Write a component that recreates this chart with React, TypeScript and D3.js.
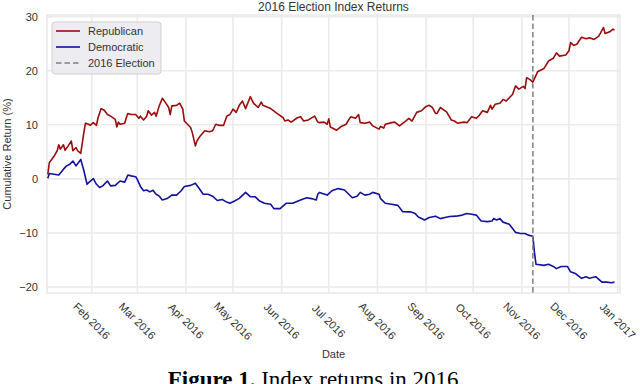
import React from 'react';
import * as d3 from 'd3';

// values
const repDates = [
  '2016-01-04', '2016-01-05', '2016-01-08', '2016-01-10', '2016-01-11', '2016-01-12', '2016-01-14', '2016-01-15',
  '2016-01-17', '2016-01-19', '2016-01-20', '2016-01-22', '2016-01-23', '2016-01-25', '2016-01-27', '2016-01-28',
  '2016-01-30', '2016-01-31', '2016-02-02', '2016-02-04', '2016-02-05', '2016-02-07', '2016-02-09', '2016-02-11',
  '2016-02-13', '2016-02-16', '2016-02-17', '2016-02-18', '2016-02-19', '2016-02-22', '2016-02-23', '2016-02-24',
  '2016-02-26', '2016-02-29', '2016-03-02', '2016-03-03', '2016-03-05', '2016-03-07', '2016-03-08', '2016-03-10',
  '2016-03-12', '2016-03-13', '2016-03-15', '2016-03-17', '2016-03-19', '2016-03-21', '2016-03-22', '2016-03-23',
  '2016-03-26', '2016-03-28', '2016-03-30', '2016-03-31', '2016-04-04', '2016-04-05', '2016-04-07', '2016-04-08',
  '2016-04-10', '2016-04-13', '2016-04-16', '2016-04-18', '2016-04-20', '2016-04-22', '2016-04-25', '2016-04-27',
  '2016-04-29', '2016-05-01', '2016-05-03', '2016-05-05', '2016-05-07', '2016-05-09', '2016-05-12', '2016-05-14',
  '2016-05-17', '2016-05-19', '2016-05-20', '2016-05-25', '2016-05-29', '2016-06-02', '2016-06-03', '2016-06-05',
  '2016-06-07', '2016-06-11', '2016-06-13', '2016-06-15', '2016-06-18', '2016-06-22', '2016-06-24', '2016-06-25',
  '2016-06-28', '2016-06-30', '2016-07-01', '2016-07-02', '2016-07-06', '2016-07-09', '2016-07-12', '2016-07-15',
  '2016-07-18', '2016-07-20', '2016-07-21', '2016-07-24', '2016-07-27', '2016-07-29', '2016-08-02', '2016-08-03',
  '2016-08-05', '2016-08-06', '2016-08-10', '2016-08-12', '2016-08-15', '2016-08-19', '2016-08-21', '2016-08-23',
  '2016-08-26', '2016-08-29', '2016-09-01', '2016-09-03', '2016-09-05', '2016-09-07', '2016-09-08', '2016-09-10',
  '2016-09-14', '2016-09-17', '2016-09-19', '2016-09-21', '2016-09-25', '2016-09-27', '2016-09-30', '2016-10-03',
  '2016-10-05', '2016-10-07', '2016-10-10', '2016-10-12', '2016-10-13', '2016-10-15', '2016-10-18', '2016-10-20',
  '2016-10-22', '2016-10-26', '2016-10-28', '2016-10-30', '2016-11-02', '2016-11-03', '2016-11-04', '2016-11-06',
  '2016-11-08', '2016-11-11', '2016-11-15', '2016-11-18', '2016-11-21', '2016-11-23', '2016-11-25', '2016-11-29',
  '2016-12-01', '2016-12-02', '2016-12-04', '2016-12-06', '2016-12-09', '2016-12-12', '2016-12-14', '2016-12-17',
  '2016-12-20', '2016-12-23', '2016-12-24', '2016-12-27', '2016-12-29', '2016-12-30',
];
const repReturns = [
  0.85, 3.0, 4.2, 5.2, 6.3, 5.5, 6.3, 5.3,
  6.1, 7.0, 5.2, 5.8, 5.2, 4.7, 8.6, 10.3,
  10.1, 9.9, 10.4, 9.9, 11.3, 13.0, 12.7, 11.9,
  11.6, 11.0, 9.6, 10.5, 10.1, 10.3, 11.3, 12.1,
  11.9, 11.9, 11.2, 11.6, 10.9, 11.6, 12.6, 11.8,
  12.3, 11.6, 13.5, 14.9, 14.1, 13.2, 11.9, 13.5,
  13.6, 14.0, 12.9, 10.7, 9.5, 8.6, 6.1, 7.0,
  7.9, 8.9, 8.7, 8.9, 10.1, 9.9, 9.9, 11.6,
  11.9, 12.9, 12.3, 13.6, 14.4, 13.0, 15.2, 14.0,
  13.2, 14.2, 13.6, 13.0, 12.1, 11.3, 10.7, 10.9,
  10.5, 11.3, 11.5, 10.7, 10.9, 11.6, 10.5, 10.4,
  10.5, 10.1, 11.1, 9.6, 9.0, 9.7, 10.1, 11.5,
  11.2, 11.9, 10.4, 10.3, 10.5, 9.8, 9.2, 9.7,
  9.4, 10.1, 10.4, 10.5, 9.8, 10.7, 11.2, 10.7,
  12.3, 12.6, 13.4, 13.6, 13.2, 12.1, 12.1, 13.2,
  12.4, 10.9, 10.7, 10.3, 10.5, 10.4, 11.5, 11.2,
  11.8, 12.6, 12.3, 13.6, 12.9, 13.8, 14.0, 14.7,
  14.4, 15.6, 17.2, 16.6, 17.1, 16.7, 18.7, 18.4,
  17.9, 19.8, 20.4, 21.8, 22.3, 23.3, 22.7, 22.9,
  23.7, 25.2, 24.7, 24.9, 26.2, 25.9, 26.1, 25.8,
  26.4, 28.0, 26.9, 27.2, 27.7, 27.5,
];

const demDates = [
  '2016-01-04', '2016-01-05', '2016-01-08', '2016-01-11', '2016-01-14', '2016-01-16', '2016-01-18', '2016-01-20',
  '2016-01-22', '2016-01-25', '2016-01-27', '2016-01-29', '2016-01-30', '2016-02-02', '2016-02-04', '2016-02-06',
  '2016-02-08', '2016-02-11', '2016-02-13', '2016-02-16', '2016-02-19', '2016-02-22', '2016-02-24', '2016-02-26',
  '2016-02-29', '2016-03-01', '2016-03-03', '2016-03-05', '2016-03-07', '2016-03-09', '2016-03-11', '2016-03-13',
  '2016-03-15', '2016-03-17', '2016-03-20', '2016-03-23', '2016-03-26', '2016-03-29', '2016-03-31', '2016-04-04',
  '2016-04-07', '2016-04-09', '2016-04-12', '2016-04-15', '2016-04-18', '2016-04-21', '2016-04-24', '2016-04-27',
  '2016-04-29', '2016-05-02', '2016-05-05', '2016-05-09', '2016-05-12', '2016-05-15', '2016-05-18', '2016-05-21',
  '2016-05-25', '2016-05-27', '2016-05-31', '2016-06-04', '2016-06-08', '2016-06-13', '2016-06-17', '2016-06-20',
  '2016-06-23', '2016-06-24', '2016-06-25', '2016-06-30', '2016-07-03', '2016-07-07', '2016-07-11', '2016-07-16',
  '2016-07-19', '2016-07-21', '2016-07-24', '2016-07-27', '2016-07-29', '2016-08-02', '2016-08-03', '2016-08-06',
  '2016-08-10', '2016-08-14', '2016-08-17', '2016-08-22', '2016-08-25', '2016-08-27', '2016-08-31', '2016-09-03',
  '2016-09-07', '2016-09-10', '2016-09-13', '2016-09-16', '2016-09-20', '2016-09-24', '2016-09-27', '2016-09-30',
  '2016-10-03', '2016-10-06', '2016-10-10', '2016-10-13', '2016-10-14', '2016-10-16', '2016-10-18', '2016-10-20',
  '2016-10-24', '2016-10-28', '2016-10-31', '2016-11-03', '2016-11-05', '2016-11-08', '2016-11-09', '2016-11-10',
  '2016-11-15', '2016-11-18', '2016-11-21', '2016-11-23', '2016-11-26', '2016-11-30', '2016-12-02', '2016-12-05',
  '2016-12-09', '2016-12-12', '2016-12-14', '2016-12-18', '2016-12-20', '2016-12-22', '2016-12-25', '2016-12-28',
  '2016-12-30',
];
const demReturns = [
  0.1, 1.0, 0.85, 0.7, 1.8, 2.4, 2.7, 3.3,
  2.4, 3.6, 1.5, -1.0, -0.7, 0.05, -1.0, -1.6,
  -1.3, -0.4, -1.3, -1.2, -0.4, -0.6, 0.7, 0.55,
  0.4, -0.1, -1.4, -2.2, -2.05, -2.4, -2.1, -2.85,
  -3.2, -3.9, -3.65, -3.0, -3.0, -2.2, -1.4, -1.2,
  -0.8, -1.6, -2.85, -2.85, -3.2, -4.0, -3.8, -4.3,
  -4.5, -4.1, -3.6, -2.5, -3.3, -3.3, -4.1, -4.5,
  -4.7, -5.5, -5.5, -4.5, -4.5, -3.9, -3.5, -3.65,
  -3.9, -2.85, -2.5, -3.0, -2.2, -1.8, -2.05, -3.5,
  -3.2, -2.5, -3.0, -2.85, -2.5, -2.85, -3.65, -4.5,
  -4.7, -4.9, -6.05, -6.1, -6.4, -7.05, -7.6, -7.15,
  -6.9, -7.35, -7.15, -6.95, -6.9, -6.7, -6.4, -6.55,
  -6.7, -7.8, -7.9, -7.8, -7.35, -7.6, -7.35, -8.0,
  -8.4, -9.9, -10.1, -10.1, -10.4, -10.6, -13.6, -15.8,
  -16.0, -15.8, -16.2, -16.6, -16.2, -16.2, -17.2, -17.5,
  -18.4, -18.1, -18.4, -18.1, -18.6, -19.1, -19.1, -19.2,
  -19.1,
];

const electionDate = '2016-11-08';
const yTicks = [-20, -10, 0, 10, 20, 30];
const seriesNames = ['Republican', 'Democratic', '2016 Election'];

const W = 640;
const H = 384;
const plot = { left: 47, right: 620, top: 15, bottom: 293 };
const font = '"Liberation Sans", Arial, sans-serif';
const textColor = '#333';
const gridColor = '#ebebeb';
const repColor = '#9a0d0d';
const demColor = '#12129a';

const parse = d3.timeParse('%Y-%m-%d');

const App = () => {
  const x = d3.scaleTime()
    .domain([new Date(2016, 0, 3, 12), new Date(2017, 0, 2, 12)])
    .range([plot.left, plot.right]);
  const y = d3.scaleLinear().domain([-21.11, 30.31]).range([plot.bottom, plot.top]);

  const rep = repDates.map((d, i) => ({ date: parse(d) as Date, v: repReturns[i] }));
  const dem = demDates.map((d, i) => ({ date: parse(d) as Date, v: demReturns[i] }));
  const line = d3.line<{ date: Date; v: number }>().x((d) => x(d.date)).y((d) => y(d.v));

  const months = d3.timeMonth.range(new Date(2016, 1, 1), new Date(2017, 0, 2));
  const fmt = d3.timeFormat('%b %Y');
  const ex = x(parse(electionDate) as Date);

  const legendItems = [
    { label: seriesNames[0], color: repColor, dash: null },
    { label: seriesNames[1], color: demColor, dash: null },
    { label: seriesNames[2], color: '#808080', dash: '5.5,3' },
  ];

  return (
    <div style={{ position: 'absolute', left: 0, top: 0 }}>
      <svg width={W} height={H} style={{ display: 'block', background: '#fff' }}>
        {/* grid */}
        {yTicks.map((t) => (
          <line key={'gy' + t} x1={plot.left} x2={plot.right} y1={y(t)} y2={y(t)} stroke={gridColor} strokeWidth={1.6} />
        ))}
        {months.map((m) => (
          <line key={'gx' + m.getTime()} x1={x(m)} x2={x(m)} y1={plot.top} y2={plot.bottom} stroke={gridColor} strokeWidth={1.6} />
        ))}
        {/* frame */}
        <rect x={plot.left} y={plot.top} width={plot.right - plot.left} height={plot.bottom - plot.top}
          fill="none" stroke="#e3e3e3" strokeWidth={1.2} />

        {/* series */}
        <path d={line(rep) || ''} fill="none" stroke={repColor} strokeWidth={1.6} strokeLinejoin="round" />
        <path d={line(dem) || ''} fill="none" stroke={demColor} strokeWidth={1.6} strokeLinejoin="round" />
        <line x1={ex} x2={ex} y1={plot.top} y2={plot.bottom} stroke="#808080" strokeWidth={1.5} strokeDasharray="5.5,3" />

        {/* y ticks */}
        {yTicks.map((t) => (
          <text key={'ty' + t} x={38} y={y(t)} dy="0.35em" textAnchor="end" fontFamily={font} fontSize={11} fill={textColor}>
            {t < 0 ? '\u2212' + Math.abs(t) : t}
          </text>
        ))}
        {/* x ticks */}
        {months.map((m) => (
          <text key={'tx' + m.getTime()} transform={`translate(${x(m)},321) rotate(45)`} dy="0.35em" textAnchor="middle"
            fontFamily={font} fontSize={11} fill={textColor}>
            {fmt(m)}
          </text>
        ))}

        {/* labels */}
        <text x={(plot.left + plot.right) / 2} y={11} textAnchor="middle" fontFamily={font} fontSize={12} fill={textColor}>
          2016 Election Index Returns
        </text>
        <text x={(plot.left + plot.right) / 2} y={358} textAnchor="middle" fontFamily={font} fontSize={11} fill={textColor}>
          Date
        </text>
        <text transform={`translate(11,${(plot.top + plot.bottom) / 2}) rotate(-90)`} textAnchor="middle"
          fontFamily={font} fontSize={11} fill={textColor}>
          Cumulative Return (%)
        </text>

        {/* legend */}
        <rect x={52} y={22} width={109} height={52} rx={3} fill="#eaeaf0" fillOpacity={0.9} stroke="#d0d0d0" strokeWidth={1} />
        {legendItems.map((it, i) => (
          <g key={it.label} transform={`translate(0,${31 + i * 16})`}>
            <line x1={56} x2={80} y1={0} y2={0} stroke={it.color} strokeWidth={1.6} strokeDasharray={it.dash || undefined} />
            <text x={88} y={0} dy="0.35em" fontFamily={font} fontSize={11} fill={textColor}>{it.label}</text>
          </g>
        ))}

        {/* caption, cut by the bottom edge as in the source figure */}
        <text x={316} y={387} textAnchor="middle" fontFamily='"Liberation Serif", "Times New Roman", serif' fontSize={23} fill="#000">
          <tspan fontWeight="bold">Figure 1.</tspan> Index returns in 2016.
        </text>
      </svg>
    </div>
  );
};

export default App;
